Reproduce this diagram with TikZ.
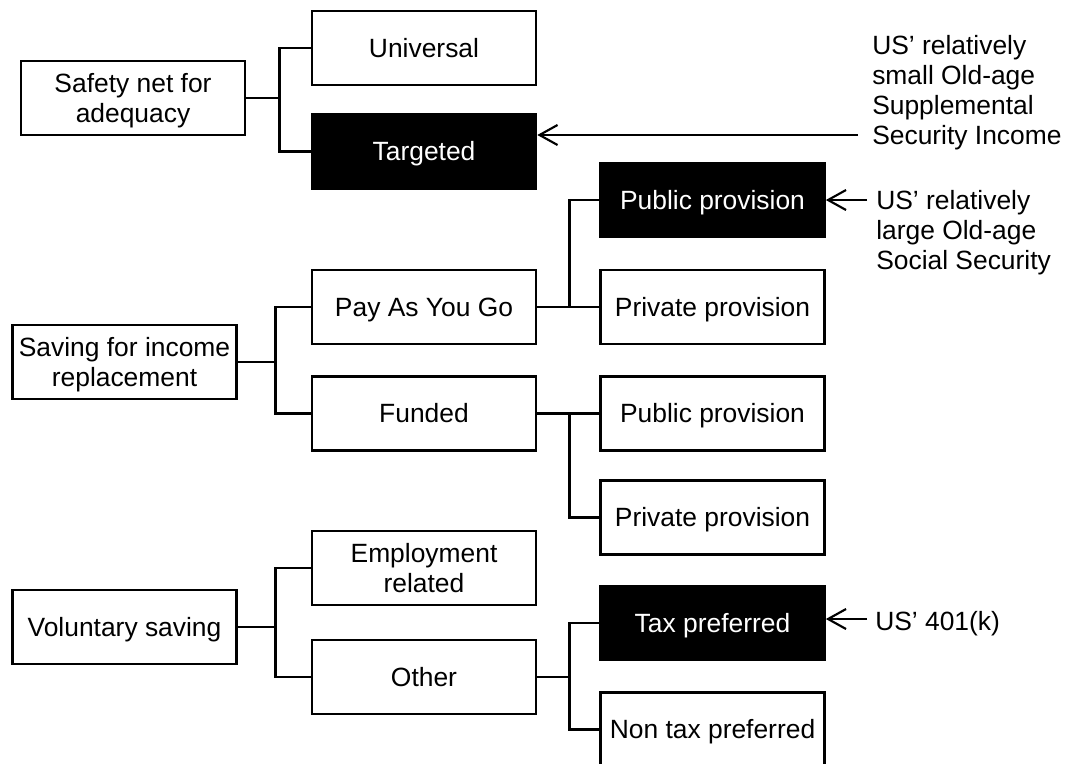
\documentclass[tikz,border=0pt]{standalone}
\usepackage{fontspec}
\setmainfont{Liberation Sans}
\usetikzlibrary{arrows.meta}
\begin{document}
\begin{tikzpicture}[x=0.75pt,y=-0.75pt,
  every node/.style={font=\fontsize{19.8}{22.5}\selectfont},
  box/.style={draw=black, line width=2pt, fill=white, minimum width=168pt,
    minimum height=55.5pt, inner sep=0pt, align=center, text height=14.2pt, text depth=0pt},
  twoline/.style={text height=36.7pt, text depth=0pt},
  dark/.style={box, fill=black, text=white},
  link/.style={line width=2pt},
  pointer/.style={line width=1.6pt, -{Straight Barb[length=13.5pt,width=15pt]}},
  note/.style={inner sep=0pt, align=left, anchor=west}]
\useasboundingbox (0,0) rectangle (1069,763);
\clip (0,0) rectangle (1069,763);

% level 1
\node[box,twoline] (safety) at (133,98) {Safety net for\\adequacy};
\node[box,twoline] (saving) at (124.5,362) {Saving for income\\replacement};
\node[box] (vol) at (124.5,627) {Voluntary saving};

% level 2
\node[box] (univ) at (424,48) {Universal};
\node[dark] (targ) at (424,151.5) {Targeted};
\node[box] (payg) at (424,307) {Pay As You Go};
\node[box] (fund) at (424,413.5) {Funded};
\node[box,twoline] (empl) at (424,568) {Employment\\related};
\node[box] (other) at (424,677) {Other};

% level 3
\node[dark] (pub1) at (712.5,200) {Public provision};
\node[box] (priv1) at (712.5,307) {Private provision};
\node[box] (pub2) at (712.5,413.5) {Public provision};
\node[box] (priv2) at (712.5,517.5) {Private provision};
\node[dark] (tax) at (712.5,623) {Tax preferred};
\node[box] (nontax) at (712.5,729.5) {Non tax preferred};

% connectors
\draw[link] (safety.east) -- ++(33,0) coordinate (j1);
\draw[link] (univ.west) -| (j1) |- (targ.west);
\draw[link] (saving.east) -- ++(37.5,0) coordinate (j2);
\draw[link] (payg.west) -| (j2) |- (fund.west);
\draw[link] (vol.east) -- ++(37.5,0) coordinate (j3);
\draw[link] (empl.west) -| (j3) |- (other.west);
\draw[link] (payg.east) -- ++(32,0) coordinate (j4);
\draw[link] (pub1.west) -| (j4) |- (priv1.west);
\draw[link] (fund.east) -- ++(32,0) coordinate (j5);
\draw[link] (pub2.west) -| (j5) |- (priv2.west);
\draw[link] (other.east) -- ++(32,0) coordinate (j6);
\draw[link] (tax.west) -| (j6) |- (nontax.west);

% notes and pointers
\node[note] (ssi) at (872,93) {US’ relatively\\small Old-age\\Supplemental\\Security Income};
\node[note] (oass) at (876,233) {US’ relatively\\large Old-age\\Social Security};
\node[note] (k401) at (875,624) {US’ 401(k)};
\coordinate (s1) at (858,135);
\coordinate (s2) at (867,200);
\coordinate (s3) at (867,619);
\draw[pointer] (s1) -- (s1 -| targ.east);
\draw[pointer] (s2) -- (s2 -| pub1.east);
\draw[pointer] (s3) -- (s3 -| tax.east);
\end{tikzpicture}
\end{document}
